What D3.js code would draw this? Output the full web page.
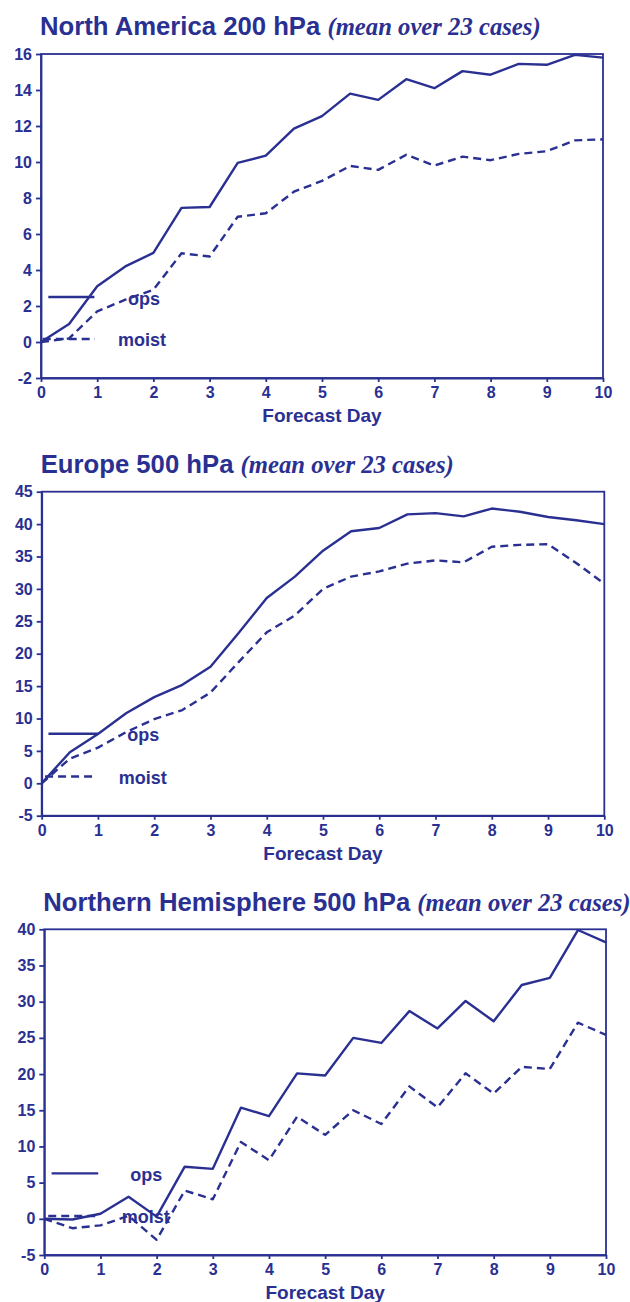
<!DOCTYPE html>
<html>
<head>
<meta charset="utf-8">
<script src="https://cdn.jsdelivr.net/npm/d3@7"></script>
<style>
  body { margin: 0; background: #fff; }
  svg { display: block; }
  .axis path, .axis line { stroke: #2a3091; stroke-width: 1.8; }
  .axis text { fill: #2a3091; font-family: "Liberation Sans", Arial, sans-serif; font-weight: bold; font-size: 16px; }
</style>
</head>
<body>
<div id="chart"></div>
<script>
// forecast days, every half day
const days = [0, 0.5, 1, 1.5, 2, 2.5, 3, 3.5, 4, 4.5, 5, 5.5, 6, 6.5, 7, 7.5, 8, 8.5, 9, 9.5, 10];
const dayTicks = [0, 1, 2, 3, 4, 5, 6, 7, 8, 9, 10];

// North America 200 hPa
const naOps   = [0, 1.0, 3.1, 4.2, 4.95, 7.45, 7.5, 9.95, 10.35, 11.85, 12.55, 13.8, 13.45, 14.6, 14.1, 15.05, 14.85, 15.45, 15.4, 15.95, 15.8];
const naMoist = [0, 0.2, 1.7, 2.35, 2.9, 4.93, 4.75, 6.96, 7.15, 8.35, 8.95, 9.78, 9.56, 10.4, 9.8, 10.3, 10.1, 10.45, 10.6, 11.2, 11.26];
const naTicks = [-2, 0, 2, 4, 6, 8, 10, 12, 14, 16];

// Europe 500 hPa
const euOps   = [0, 4.8, 7.6, 10.8, 13.3, 15.2, 18.0, 23.2, 28.6, 31.9, 35.9, 38.9, 39.4, 41.5, 41.7, 41.2, 42.4, 41.9, 41.1, 40.6, 40.0];
const euMoist = [0, 3.8, 5.5, 7.9, 9.9, 11.3, 14.0, 18.7, 23.3, 25.9, 30.0, 31.9, 32.7, 33.9, 34.4, 34.1, 36.5, 36.8, 36.9, 34.0, 30.8];
const euTicks = [-5, 0, 5, 10, 15, 20, 25, 30, 35, 40, 45];

// Northern Hemisphere 500 hPa
const nhOps   = [0, -0.1, 0.7, 3.05, 0.3, 7.2, 6.9, 15.35, 14.2, 20.1, 19.8, 25.0, 24.3, 28.7, 26.3, 30.1, 27.3, 32.3, 33.3, 39.9, 38.2];
const nhMoist = [0, -1.3, -0.9, 0.4, -2.9, 3.9, 2.7, 10.6, 8.1, 14.1, 11.6, 15.0, 13.1, 18.3, 15.4, 20.1, 17.3, 21.0, 20.7, 27.1, 25.4];
const nhTicks = [-5, 0, 5, 10, 15, 20, 25, 30, 35, 40];

const seriesNames = ['ops', 'moist'];

const color = '#2a3091';
const width = 630, height = 1302;

// legend is placed in data units of each panel
const panels = [
  { title: 'North America 200 hPa', ops: naOps, moist: naMoist, ticks: naTicks,
    left: 41, right: 603, top: 54, bottom: 378, titleY: 35,
    legend: { ops: [0.13, 0.95, 2.5, 1.55], moist: [0.03, 0.96, 0.17, 1.37] } },
  { title: 'Europe 500 hPa', ops: euOps, moist: euMoist, ticks: euTicks,
    left: 41.7, right: 604.3, top: 491.7, bottom: 815.7, titleY: 473,
    legend: { ops: [0.12, 1.0, 7.65, 1.52], moist: [0.06, 0.96, 1.06, 1.37] } },
  { title: 'Northern Hemisphere 500 hPa', ops: nhOps, moist: nhMoist, ticks: nhTicks,
    left: 44.3, right: 606, top: 929.3, bottom: 1255, titleY: 911,
    legend: { ops: [0.13, 0.96, 6.28, 1.53], moist: [0.07, 0.99, 0.39, 1.38] } }
];

const svg = d3.select('#chart').append('svg')
  .attr('width', width)
  .attr('height', height);

panels.forEach(p => {
  const x = d3.scaleLinear().domain([0, 10]).range([p.left, p.right]);
  const y = d3.scaleLinear().domain(d3.extent(p.ticks)).range([p.bottom, p.top]);

  const g = svg.append('g');

  // title
  const title = g.append('text')
    .attr('x', p.left - 1)
    .attr('y', p.titleY)
    .attr('fill', color);
  title.append('tspan')
    .attr('font-family', '"Liberation Sans", Arial, sans-serif')
    .attr('font-weight', 'bold')
    .attr('font-size', 25.7)
    .text(p.title + ' ');
  title.append('tspan')
    .attr('font-family', '"Liberation Serif", "Times New Roman", serif')
    .attr('font-weight', 'bold')
    .attr('font-style', 'italic')
    .attr('font-size', 24.7)
    .text('(mean over 23 cases)');

  // frame
  g.append('rect')
    .attr('x', p.left)
    .attr('y', p.top)
    .attr('width', p.right - p.left)
    .attr('height', p.bottom - p.top)
    .attr('fill', 'none')
    .attr('stroke', color)
    .attr('stroke-width', 1.8);

  // plain hyphen for negatives, as in the original
  const fmt = d => String(d);

  g.append('g')
    .attr('class', 'axis')
    .attr('transform', `translate(${p.left},0)`)
    .call(d3.axisLeft(y).tickValues(p.ticks).tickFormat(fmt).tickSize(5).tickPadding(4).tickSizeOuter(0));

  g.append('g')
    .attr('class', 'axis')
    .attr('transform', `translate(0,${p.bottom})`)
    .call(d3.axisBottom(x).tickValues(dayTicks).tickFormat(fmt).tickSize(4).tickPadding(5).tickSizeOuter(0));

  g.append('text')
    .attr('x', (p.left + p.right) / 2)
    .attr('y', p.bottom + 44)
    .attr('text-anchor', 'middle')
    .attr('fill', color)
    .attr('font-family', '"Liberation Sans", Arial, sans-serif')
    .attr('font-weight', 'bold')
    .attr('font-size', 19)
    .text('Forecast Day');

  const line = d3.line()
    .x((d, i) => x(days[i]))
    .y(d => y(d));

  seriesNames.forEach(name => {
    const dash = name === 'moist' ? '8,5' : null;
    g.append('path')
      .datum(p[name])
      .attr('d', line)
      .attr('fill', 'none')
      .attr('stroke', color)
      .attr('stroke-width', 2.4)
      .attr('stroke-linejoin', 'round')
      .attr('stroke-dasharray', dash);

    // legend entry
    const [x1, x2, ly, tx] = p.legend[name];
    g.append('line')
      .attr('x1', x(x1)).attr('x2', x(x2))
      .attr('y1', y(ly)).attr('y2', y(ly))
      .attr('stroke', color)
      .attr('stroke-width', 2.4)
      .attr('stroke-dasharray', dash);
    g.append('text')
      .attr('x', x(tx))
      .attr('y', y(ly) + 7.5)
      .attr('fill', color)
      .attr('font-family', '"Liberation Sans", Arial, sans-serif')
      .attr('font-weight', 'bold')
      .attr('font-size', 18)
      .text(name);
  });
});
</script>
</body>
</html>
